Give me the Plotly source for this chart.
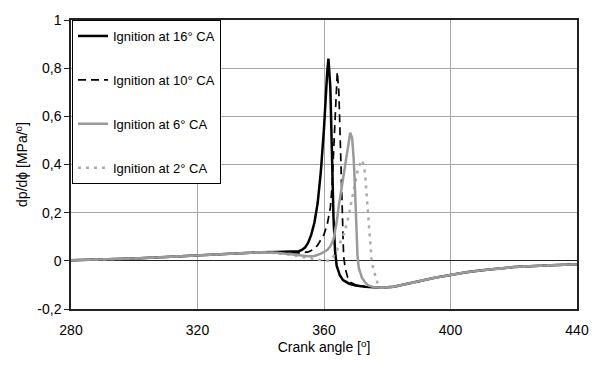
import plotly.graph_objects as go

# ---- data ----
angle_16 = [280, 290, 300, 310, 320, 330, 340, 345, 348, 350, 352, 353, 354, 355, 356, 357, 358, 359, 360, 361,
            361.4, 362, 362.5, 363, 363.5, 364, 365, 366, 368, 370, 373, 376, 378, 382, 386, 390, 395, 400, 405,
            410, 420, 430, 440]
dp_16 = [0.002, 0.005, 0.010, 0.016, 0.023, 0.030, 0.036, 0.037, 0.037, 0.038, 0.040, 0.045, 0.055, 0.075, 0.11,
         0.16, 0.24, 0.37, 0.55, 0.78, 0.84, 0.72, 0.45, 0.18, 0.04, -0.02, -0.06, -0.08, -0.095, -0.102, -0.108,
         -0.111, -0.112, -0.108, -0.098, -0.085, -0.070, -0.057, -0.047, -0.039, -0.026, -0.019, -0.014]

angle_10 = [280, 290, 300, 310, 320, 330, 340, 345, 350, 353, 355, 357, 358, 359, 360, 361, 362, 362.5, 363,
            363.6, 364.2, 364.7, 365.2, 365.7, 366.2, 366.7, 367.5, 368.5, 370, 373, 376, 378, 382, 386, 390, 395,
            400, 405, 410, 420, 430, 440]
dp_10 = [0.002, 0.005, 0.010, 0.016, 0.023, 0.030, 0.036, 0.036, 0.033, 0.033, 0.037, 0.05, 0.065, 0.085, 0.11,
         0.15, 0.22, 0.30, 0.45, 0.65, 0.785, 0.70, 0.45, 0.18, 0.02, -0.03, -0.07, -0.09, -0.10, -0.107, -0.111,
         -0.112, -0.108, -0.098, -0.085, -0.070, -0.057, -0.047, -0.039, -0.026, -0.019, -0.014]

angle_6 = [280, 290, 300, 310, 320, 330, 340, 345, 350, 353, 355, 357, 359, 361, 362, 363, 364, 364.7, 365.5,
           366.7, 367.5, 368.3, 368.9, 369.4, 369.8, 370.2, 370.6, 371, 372, 373, 374, 376, 378, 382, 386, 390,
           395, 400, 405, 410, 420, 430, 440]
dp_6 = [0.002, 0.005, 0.010, 0.016, 0.023, 0.030, 0.036, 0.034, 0.028, 0.023, 0.019, 0.02, 0.03, 0.045, 0.06,
        0.09, 0.16, 0.23, 0.30, 0.39, 0.48, 0.532, 0.51, 0.42, 0.30, 0.13, 0.02, -0.03, -0.07, -0.09, -0.102,
        -0.11, -0.112, -0.108, -0.098, -0.085, -0.070, -0.057, -0.047, -0.039, -0.026, -0.019, -0.014]

angle_2 = [280, 290, 300, 310, 320, 330, 340, 345, 350, 355, 358, 360, 362, 362.6, 364, 365.2, 366.5, 367.7,
           368.8, 370, 370.8, 371.9, 372.5, 373, 373.5, 374, 374.5, 375, 375.5, 376.3, 377.1, 378, 380, 382, 386,
           390, 395, 400, 405, 410, 420, 430, 440]
dp_2 = [0.002, 0.005, 0.010, 0.016, 0.023, 0.030, 0.036, 0.032, 0.024, 0.012, 0.003, 0.0, 0.002, 0.01, 0.04,
        0.075, 0.12, 0.18, 0.25, 0.33, 0.385, 0.418, 0.40, 0.36, 0.27, 0.18, 0.09, 0.01, -0.03, -0.07, -0.10,
        -0.11, -0.113, -0.109, -0.098, -0.085, -0.070, -0.057, -0.047, -0.039, -0.026, -0.019, -0.014]

series_names = ["Ignition at 16° CA", "Ignition at 10° CA", "Ignition at 6° CA", "Ignition at 2° CA"]

y_tick_vals = [-0.2, 0, 0.2, 0.4, 0.6, 0.8, 1.0]
y_tick_text = ["-0,2", "0", "0,2", "0,4", "0,6", "0,8", "1"]
x_tick_vals = [280, 320, 360, 400, 440]

# ---- figure ----
styles = [
    dict(color="#000000", width=2.5, dash="solid"),
    dict(color="#000000", width=1.7, dash="8px,5px"),
    dict(color="#9a9a9a", width=2.5, dash="solid"),
    dict(color="#ababab", width=2.5, dash="3px,5px"),
]
series = [(angle_16, dp_16), (angle_10, dp_10), (angle_6, dp_6), (angle_2, dp_2)]

fig = go.Figure()
# draw order: black solid, black dashed, grey dotted, grey solid on top
for i in [0, 1, 3, 2]:
    xs, ys = series[i]
    fig.add_trace(go.Scatter(x=xs, y=ys, mode="lines", name=series_names[i], line=styles[i],
                             legendgroup=f"g{i}", legendrank=i + 1))

fig.update_layout(
    width=601, height=365,
    margin=dict(l=71, r=15, t=14, b=54),
    paper_bgcolor="white", plot_bgcolor="white",
    font=dict(family="Liberation Sans, Arial, sans-serif", size=14, color="#000"),
    showlegend=True,
    legend=dict(
        x=0.002, y=1.0, xanchor="left", yanchor="top",
        bgcolor="white", bordercolor="#000", borderwidth=1,
        font=dict(size=13), tracegroupgap=24, traceorder="grouped",
        itemwidth=30, entrywidth=135, entrywidthmode="pixels",
    ),
)
fig.update_xaxes(
    range=[280, 440], tickvals=x_tick_vals,
    ticks="outside", ticklen=7, tickcolor="rgba(0,0,0,0)",
    showgrid=True, gridcolor="#a6a6a6", gridwidth=1,
    showline=True, linecolor="#222", linewidth=1.5, mirror=True,
    zeroline=False, ticklabeloverflow="allow",
    title=dict(text="Crank angle [<sup>o</sup>]", font=dict(size=14), standoff=6),
)
fig.update_yaxes(
    range=[-0.2, 1.0], tickvals=y_tick_vals, ticktext=y_tick_text,
    ticks="outside", ticklen=5, tickcolor="#222",
    showgrid=True, gridcolor="#a6a6a6", gridwidth=1,
    showline=True, linecolor="#222", linewidth=1.5, mirror=True,
    zeroline=True, zerolinecolor="#222", zerolinewidth=1.2, ticklabeloverflow="allow",
    title=dict(text="dp/dϕ [MPa/<sup>o</sup>]", font=dict(size=14), standoff=6),
)

fig.write_html(
    "out.html",
    config={"displayModeBar": False},
    post_script="document.body.style.margin='0px';document.body.style.overflow='hidden';",
)
